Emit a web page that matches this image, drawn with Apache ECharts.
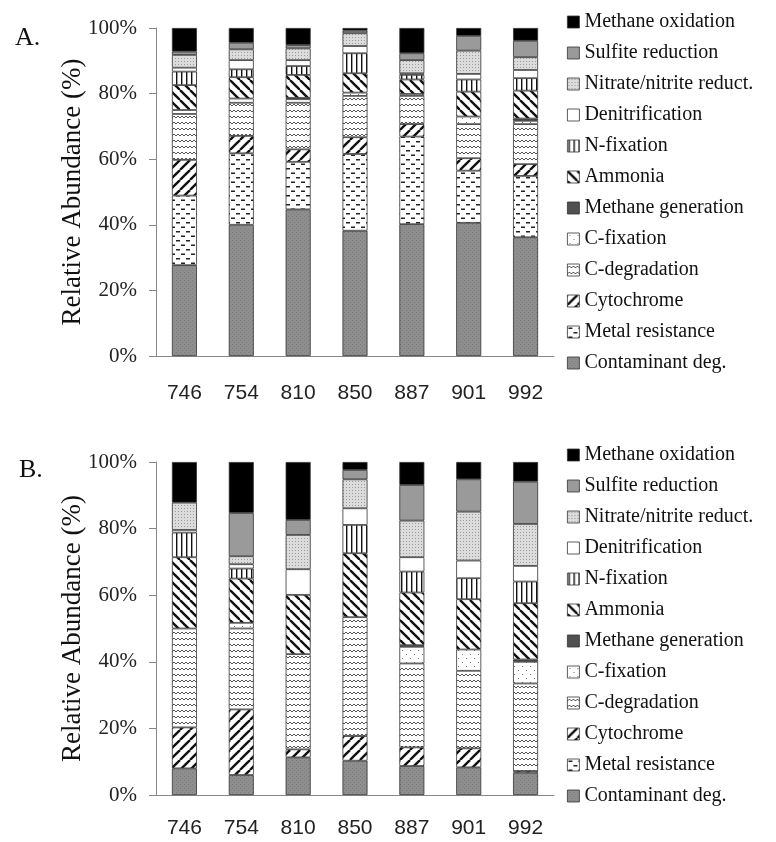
<!DOCTYPE html>
<html>
<head>
<meta charset="utf-8">
<script src="https://cdn.jsdelivr.net/npm/echarts@6/dist/echarts.min.js"></script>
<style>html,body{margin:0;padding:0;background:#fff;}#c{width:776px;height:842px;}</style>
</head>
<body>
<div id="c"></div>
<script>
// ---- data ----
const categories = ['746', '754', '810', '850', '887', '901', '992'];
const yTicks = ['0%', '20%', '40%', '60%', '80%', '100%'];
const seriesNames = ['Contaminant deg.', 'Metal resistance', 'Cytochrome', 'C-degradation', 'C-fixation',
  'Methane generation', 'Ammonia', 'N-fixation', 'Denitrification', 'Nitrate/nitrite reduct.',
  'Sulfite reduction', 'Methane oxidation'];

// Panel A
const aContaminant = [27.7, 40.0, 44.7, 38.2, 40.2, 40.6, 36.2];
const aMetal       = [21.2, 21.8, 14.5, 23.4, 26.7, 15.9, 18.7];
const aCytochrome  = [10.9, 5.3, 3.8, 5.1, 3.8, 3.8, 3.6];
const aCdeg        = [14.0, 10.1, 14.2, 12.6, 8.6, 10.4, 12.2];
const aCfix        = [1.2, 1.3, 1.1, 1.0, 0.6, 2.3, 1.0];
const aMgen        = [0, 0, 0.4, 0, 0, 0, 0.7];
const aAmmonia     = [7.6, 6.5, 7.0, 5.9, 4.4, 7.6, 8.5];
const aNfix        = [4.1, 2.4, 2.7, 6.1, 1.4, 3.7, 3.8];
const aDenit       = [1.2, 2.8, 1.8, 2.2, 0.5, 1.7, 2.5];
const aNitrate     = [3.9, 3.3, 3.6, 3.9, 4.0, 7.1, 3.9];
const aSulfite     = [1.0, 2.0, 1.0, 0.8, 2.1, 4.5, 5.0];
const aMox         = [7.2, 4.5, 5.2, 0.8, 7.7, 2.4, 3.9];

// Panel B
const bContaminant = [8.0, 6.0, 11.3, 10.3, 8.7, 8.3, 6.7];
const bMetal       = [0, 0, 0, 0, 0, 0, 0];
const bCytochrome  = [12.3, 19.7, 2.4, 7.4, 5.6, 5.7, 0.5];
const bCdeg        = [29.7, 24.3, 28.6, 35.7, 25.2, 23.3, 26.3];
const bCfix        = [0, 1.7, 0, 0, 5.0, 6.4, 6.5];
const bMgen        = [0, 0, 0, 0, 0.5, 0, 0.7];
const bAmmonia     = [21.4, 13.3, 17.8, 19.2, 15.8, 15.1, 16.9];
const bNfix        = [7.4, 3.0, 0, 8.5, 6.3, 6.3, 6.5];
const bDenit       = [0.8, 1.3, 7.7, 5.0, 4.3, 5.3, 4.7];
const bNitrate     = [8.2, 2.4, 10.3, 8.7, 11.0, 14.7, 12.6];
const bSulfite     = [0, 13.0, 4.5, 2.8, 10.7, 9.7, 12.7];
const bMox         = [12.2, 15.3, 17.4, 2.4, 6.9, 5.2, 5.9];

const panelA = [aContaminant, aMetal, aCytochrome, aCdeg, aCfix, aMgen, aAmmonia, aNfix, aDenit, aNitrate, aSulfite, aMox];
const panelB = [bContaminant, bMetal, bCytochrome, bCdeg, bCfix, bMgen, bAmmonia, bNfix, bDenit, bNitrate, bSulfite, bMox];

// ---- patterns ----
function mk(w, h, draw) {
  const c = document.createElement('canvas');
  c.width = w; c.height = h;
  const g = c.getContext('2d');
  draw(g, w, h);
  return { image: c, repeat: 'repeat' };
}
function diag(g, w, h, dir, lw) {
  g.fillStyle = '#fff'; g.fillRect(0, 0, w, h);
  g.strokeStyle = '#111'; g.lineWidth = lw;
  for (let k = -2; k <= 2; k++) {
    g.beginPath();
    if (dir > 0) { g.moveTo(k * w, h); g.lineTo(k * w + w, 0); }
    else { g.moveTo(k * w, 0); g.lineTo(k * w + w, h); }
    g.stroke();
  }
}
const fills = [
  mk(4, 4, (g) => { g.fillStyle = '#8e8e8e'; g.fillRect(0, 0, 4, 4); g.fillStyle = '#7c7c7c'; g.fillRect(0, 0, 1, 1); g.fillRect(2, 2, 1, 1); }),
  mk(10, 9, (g) => { g.fillStyle = '#fff'; g.fillRect(0, 0, 10, 9); g.fillStyle = '#222'; g.fillRect(1, 1.5, 4, 1.5); g.fillRect(6, 6, 4, 1.5); }),
  mk(10, 10, (g, w, h) => diag(g, w, h, 1, 2.4)),
  mk(8, 6, (g) => { g.fillStyle = '#fff'; g.fillRect(0, 0, 8, 6); g.strokeStyle = '#555'; g.lineWidth = 1; g.beginPath(); g.moveTo(0, 4); g.lineTo(2, 2); g.lineTo(4, 4); g.lineTo(6, 2); g.lineTo(8, 4); g.stroke(); }),
  mk(8, 8, (g) => { g.fillStyle = '#fff'; g.fillRect(0, 0, 8, 8); g.fillStyle = '#777'; g.fillRect(2, 2, 1, 1); g.fillRect(6, 6, 1, 1); }),
  '#505050',
  mk(10, 10, (g, w, h) => diag(g, w, h, -1, 2.4)),
  mk(5, 2, (g) => { g.fillStyle = '#fff'; g.fillRect(0, 0, 5, 2); g.fillStyle = '#111'; g.fillRect(1, 0, 1.4, 2); }),
  '#ffffff',
  mk(3, 3, (g) => { g.fillStyle = '#dcdcdc'; g.fillRect(0, 0, 3, 3); g.fillStyle = '#9a9a9a'; g.fillRect(1, 1, 1, 1); }),
  '#9a9a9a',
  '#000000'
];

const serif = '"Liberation Serif", "DejaVu Serif", serif';
const sans = '"Liberation Sans", "DejaVu Sans", sans-serif';
const series = [];
[panelA, panelB].forEach((panel, pi) => {
  panel.forEach((arr, si) => {
    series.push({
      name: seriesNames[si],
      type: 'bar',
      stack: 'p' + pi,
      xAxisIndex: pi,
      yAxisIndex: pi,
      barWidth: '44%',
      data: arr.map(v => (v === 0 ? null : v)),
      itemStyle: { color: fills[si], borderColor: '#333', borderWidth: 0.8 },
      emphasis: { disabled: true }
    });
  });
});

const legendData = seriesNames.slice().reverse();
function legend(top) {
  return {
    orient: 'vertical', left: 562, top: top, icon: 'rect', itemWidth: 12, itemHeight: 12, itemGap: 11,
    data: legendData,
    textStyle: { fontFamily: serif, fontSize: 20, color: '#111', lineHeight: 20 },
    itemStyle: { borderColor: '#333', borderWidth: 0.8 }
  };
}
function xAxis(gi, margin) {
  return {
    type: 'category', gridIndex: gi, data: categories,
    axisLine: { lineStyle: { color: '#888' } },
    axisTick: { length: 6, lineStyle: { color: '#888' } },
    axisLabel: { fontFamily: sans, fontSize: 21, color: '#222', margin: margin }
  };
}
function yAxis(gi) {
  return {
    type: 'value', gridIndex: gi, min: 0, max: 100, interval: 20,
    name: 'Relative Abundance (%)', nameLocation: 'middle', nameGap: 70, nameMoveOverlap: false,
    nameTextStyle: { fontFamily: serif, fontSize: 27, color: '#111' },
    axisLine: { show: true, lineStyle: { color: '#888' } },
    axisTick: { show: true, length: 7, lineStyle: { color: '#888' } },
    splitLine: { show: false },
    axisLabel: { fontFamily: serif, fontSize: 21, color: '#222', margin: 19,
      formatter: (v) => yTicks[Math.round(v / 20)] }
  };
}

const chart = echarts.init(document.getElementById('c'), null, { renderer: 'canvas' });
chart.setOption({
  animation: false,
  backgroundColor: '#fff',
  title: [
    { text: 'A.', left: 10, top: 20, textStyle: { fontFamily: serif, fontSize: 26, fontWeight: 'normal', color: '#111' } },
    { text: 'B.', left: 14, top: 452, textStyle: { fontFamily: serif, fontSize: 26, fontWeight: 'normal', color: '#111' } }
  ],
  legend: [legend(7), legend(440)],
  grid: [
    { left: 156, width: 398, top: 28, height: 328 },
    { left: 156, width: 398, top: 462, height: 333 }
  ],
  xAxis: [xAxis(0, 27), xAxis(1, 23)],
  yAxis: [yAxis(0), yAxis(1)],
  series: series
});
</script>
</body>
</html>
